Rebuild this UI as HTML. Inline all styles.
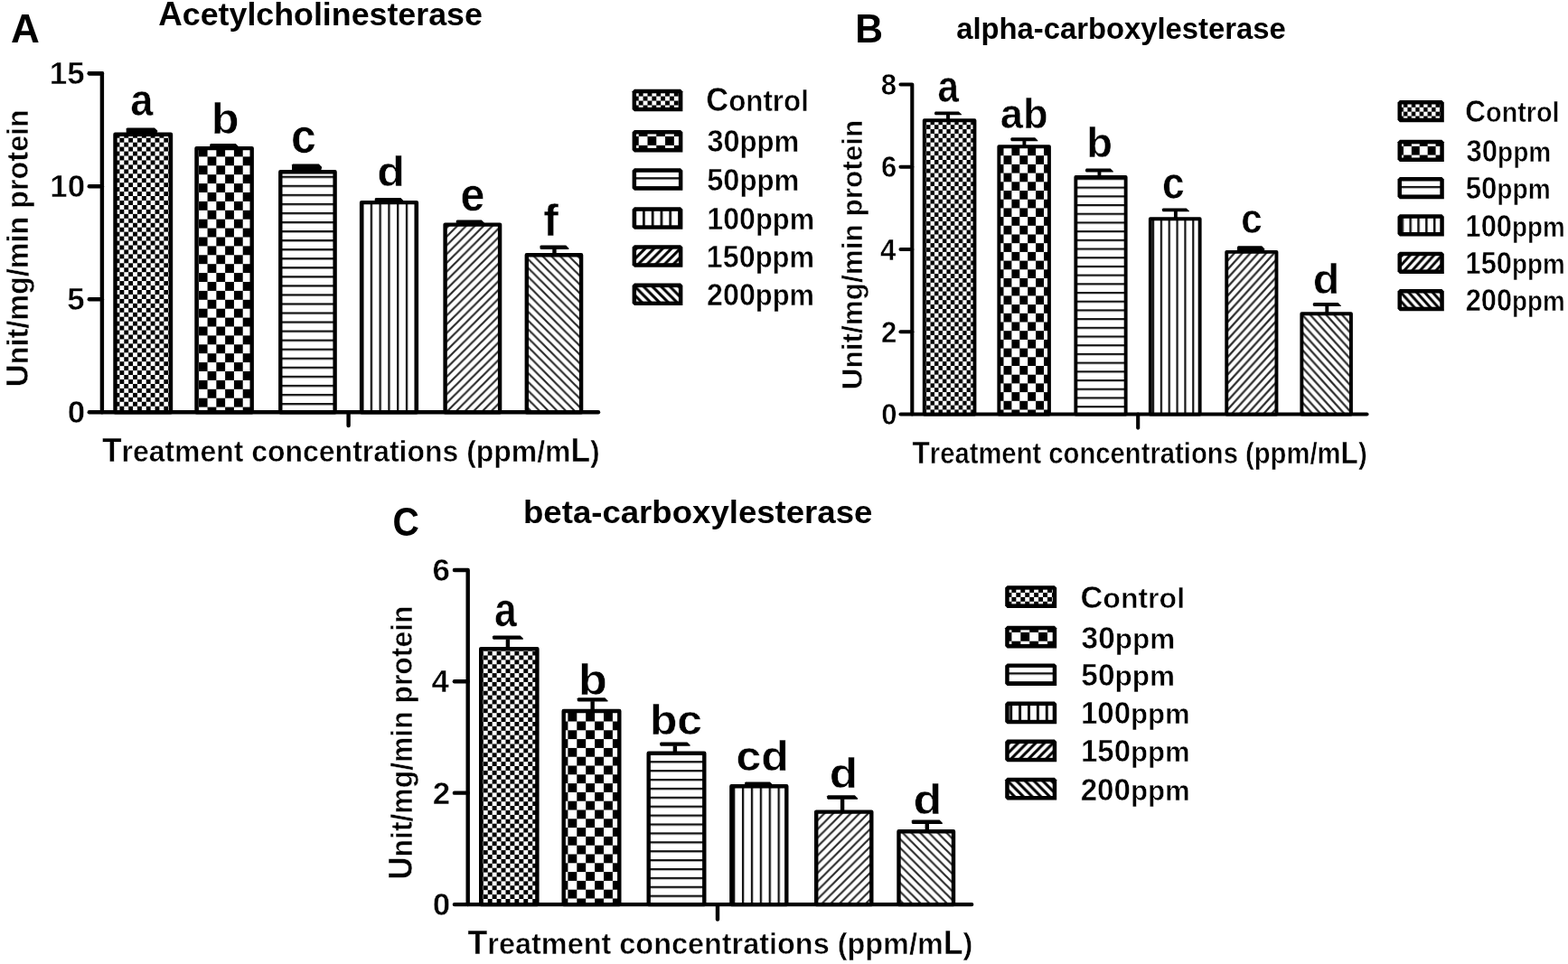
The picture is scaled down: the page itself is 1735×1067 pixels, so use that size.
<!DOCTYPE html>
<html><head><meta charset="utf-8"><style>
html,body{margin:0;padding:0;background:#fff;}
svg{display:block;}
text{font-family:"Liberation Sans",Arial,sans-serif;font-weight:bold;fill:#000;}
text.e{stroke:#fff;stroke-width:0.5px;}
</style></head><body>
<svg width="1735" height="1067" viewBox="0 0 1735 1067">
<defs>
<pattern id="Ac1" patternUnits="userSpaceOnUse" x="5.28" y="4.2" width="9.78" height="9.9"><rect width="9.78" height="9.9" fill="#fff"/><rect width="4.89" height="4.95" fill="#000"/><rect x="4.89" y="4.95" width="4.89" height="4.95" fill="#000"/></pattern>
<pattern id="Ac2" patternUnits="userSpaceOnUse" x="4.64" y="5.1" width="19.56" height="19.8"><rect width="19.56" height="19.8" fill="#fff"/><rect width="9.78" height="9.9" fill="#000"/><rect x="9.78" y="9.9" width="9.78" height="9.9" fill="#000"/></pattern>
<pattern id="Ah" patternUnits="userSpaceOnUse" x="0" y="3.75" width="10" height="10.05"><rect width="10" height="10.05" fill="#fff"/><rect y="0" width="10" height="2.3" fill="#111"/></pattern>
<pattern id="Av" patternUnits="userSpaceOnUse" x="-1.01" y="0" width="9.78" height="10"><rect width="9.78" height="10" fill="#fff"/><rect x="0" width="2.3" height="10" fill="#111"/></pattern>
<pattern id="Ad1" patternUnits="userSpaceOnUse" x="9.2" y="0" width="9.7" height="9.7"><rect width="9.7" height="9.7" fill="#fff"/><path d="M-9.7,19.4 L19.4,-9.7 M-19.4,19.4 L9.7,-9.7 M0,19.4 L29.099999999999998,-9.7" stroke="#2a2a2a" stroke-width="2.2" fill="none"/></pattern>
<pattern id="Ad2" patternUnits="userSpaceOnUse" x="6.5" y="0" width="9.7" height="9.7"><rect width="9.7" height="9.7" fill="#fff"/><path d="M-9.7,-9.7 L19.4,19.4 M-19.4,-9.7 L9.7,19.4 M0,-9.7 L29.099999999999998,19.4" stroke="#2a2a2a" stroke-width="2.2" fill="none"/></pattern>
<pattern id="Bc1" patternUnits="userSpaceOnUse" x="1.6" y="2.4" width="8.9" height="9.7"><rect width="8.9" height="9.7" fill="#fff"/><rect width="4.45" height="4.85" fill="#000"/><rect x="4.45" y="4.85" width="4.45" height="4.85" fill="#000"/></pattern>
<pattern id="Bc2" patternUnits="userSpaceOnUse" x="6.9" y="17.0" width="17.8" height="19.4"><rect width="17.8" height="19.4" fill="#fff"/><rect width="8.9" height="9.7" fill="#000"/><rect x="8.9" y="9.7" width="8.9" height="9.7" fill="#000"/></pattern>
<pattern id="Bh" patternUnits="userSpaceOnUse" x="0" y="2.9" width="10" height="9.7"><rect width="10" height="9.7" fill="#fff"/><rect y="0" width="10" height="2.2" fill="#111"/></pattern>
<pattern id="Bv" patternUnits="userSpaceOnUse" x="0.55" y="0" width="8.85" height="10"><rect width="8.85" height="10" fill="#fff"/><rect x="0" width="2.2" height="10" fill="#111"/></pattern>
<pattern id="Bd1" patternUnits="userSpaceOnUse" x="0.88" y="0" width="8.8" height="9.7"><rect width="8.8" height="9.7" fill="#fff"/><path d="M-8.8,19.4 L17.6,-9.7 M-17.6,19.4 L8.8,-9.7 M0,19.4 L26.400000000000002,-9.7" stroke="#2a2a2a" stroke-width="2.2" fill="none"/></pattern>
<pattern id="Bd2" patternUnits="userSpaceOnUse" x="7.3" y="0" width="8.8" height="9.7"><rect width="8.8" height="9.7" fill="#fff"/><path d="M-8.8,-9.7 L17.6,19.4 M-17.6,-9.7 L8.8,19.4 M0,-9.7 L26.400000000000002,19.4" stroke="#2a2a2a" stroke-width="2.2" fill="none"/></pattern>
<pattern id="Cc1" patternUnits="userSpaceOnUse" x="5.1" y="5.2" width="9.9" height="9.8"><rect width="9.9" height="9.8" fill="#fff"/><rect width="4.95" height="4.9" fill="#000"/><rect x="4.95" y="4.9" width="4.95" height="4.9" fill="#000"/></pattern>
<pattern id="Cc2" patternUnits="userSpaceOnUse" x="14.6" y="4.7" width="19.8" height="19.6"><rect width="19.8" height="19.6" fill="#fff"/><rect width="9.9" height="9.8" fill="#000"/><rect x="9.9" y="9.8" width="9.9" height="9.8" fill="#000"/></pattern>
<pattern id="Ch" patternUnits="userSpaceOnUse" x="0" y="0.65" width="10" height="9.9"><rect width="10" height="9.9" fill="#fff"/><rect y="0" width="10" height="2.3" fill="#111"/></pattern>
<pattern id="Cv" patternUnits="userSpaceOnUse" x="-0.75" y="0" width="9.9" height="10"><rect width="9.9" height="10" fill="#fff"/><rect x="0" width="2.3" height="10" fill="#111"/></pattern>
<pattern id="Cd1" patternUnits="userSpaceOnUse" x="8.4" y="0" width="9.7" height="9.7"><rect width="9.7" height="9.7" fill="#fff"/><path d="M-9.7,19.4 L19.4,-9.7 M-19.4,19.4 L9.7,-9.7 M0,19.4 L29.099999999999998,-9.7" stroke="#2a2a2a" stroke-width="2.2" fill="none"/></pattern>
<pattern id="Cd2" patternUnits="userSpaceOnUse" x="9.1" y="0" width="9.7" height="9.7"><rect width="9.7" height="9.7" fill="#fff"/><path d="M-9.7,-9.7 L19.4,19.4 M-19.4,-9.7 L9.7,19.4 M0,-9.7 L29.099999999999998,19.4" stroke="#2a2a2a" stroke-width="2.2" fill="none"/></pattern>
<pattern id="LA0" patternUnits="userSpaceOnUse" x="701.82" y="106.60" width="9.78" height="9.9"><rect width="9.78" height="9.9" fill="#fff"/><rect width="4.89" height="4.95" fill="#000"/><rect x="4.89" y="4.95" width="4.89" height="4.95" fill="#000"/></pattern>
<pattern id="LA1" patternUnits="userSpaceOnUse" x="716.50" y="151.00" width="19.56" height="19.8"><rect width="19.56" height="19.8" fill="#fff"/><rect width="9.78" height="9.9" fill="#000"/><rect x="9.78" y="9.9" width="9.78" height="9.9" fill="#000"/></pattern>
<pattern id="LA2" patternUnits="userSpaceOnUse" x="0" y="196.20" width="10" height="10.05"><rect width="10" height="10.05" fill="#fff"/><rect width="10" height="2.3" fill="#111"/></pattern>
<pattern id="LA3" patternUnits="userSpaceOnUse" x="701.20" y="0" width="9.78" height="10"><rect width="9.78" height="10" fill="#fff"/><rect width="2.8" height="10" fill="#111"/></pattern>
<pattern id="LA4" patternUnits="userSpaceOnUse" x="708.10" y="271.20" width="9.7" height="9.7"><rect width="9.7" height="9.7" fill="#fff"/><path d="M-9.7,19.4 L19.4,-9.7 M-19.4,19.4 L9.7,-9.7 M0,19.4 L29.099999999999998,-9.7" stroke="#000" stroke-width="3.0" fill="none"/></pattern>
<pattern id="LA5" patternUnits="userSpaceOnUse" x="708.60" y="313.60" width="9.7" height="9.7"><rect width="9.7" height="9.7" fill="#fff"/><path d="M-9.7,-9.7 L19.4,19.4 M-19.4,-9.7 L9.7,19.4 M0,-9.7 L29.099999999999998,19.4" stroke="#000" stroke-width="3.0" fill="none"/></pattern>
<pattern id="LB0" patternUnits="userSpaceOnUse" x="1548.52" y="118.80" width="8.9" height="9.7"><rect width="8.9" height="9.7" fill="#fff"/><rect width="4.45" height="4.85" fill="#000"/><rect x="4.45" y="4.85" width="4.45" height="4.85" fill="#000"/></pattern>
<pattern id="LB1" patternUnits="userSpaceOnUse" x="1561.88" y="161.90" width="17.8" height="19.4"><rect width="17.8" height="19.4" fill="#fff"/><rect width="8.9" height="9.7" fill="#000"/><rect x="8.9" y="9.7" width="8.9" height="9.7" fill="#000"/></pattern>
<pattern id="LB2" patternUnits="userSpaceOnUse" x="0" y="205.90" width="10" height="9.7"><rect width="10" height="9.7" fill="#fff"/><rect width="10" height="2.3" fill="#111"/></pattern>
<pattern id="LB3" patternUnits="userSpaceOnUse" x="1550.60" y="0" width="8.85" height="10"><rect width="8.85" height="10" fill="#fff"/><rect width="2.5" height="10" fill="#111"/></pattern>
<pattern id="LB4" patternUnits="userSpaceOnUse" x="1555.00" y="278.70" width="8.8" height="9.7"><rect width="8.8" height="9.7" fill="#fff"/><path d="M-8.8,19.4 L17.6,-9.7 M-17.6,19.4 L8.8,-9.7 M0,19.4 L26.400000000000002,-9.7" stroke="#000" stroke-width="3.0" fill="none"/></pattern>
<pattern id="LB5" patternUnits="userSpaceOnUse" x="1555.50" y="320.00" width="8.8" height="9.7"><rect width="8.8" height="9.7" fill="#fff"/><path d="M-8.8,-9.7 L17.6,19.4 M-17.6,-9.7 L8.8,19.4 M0,-9.7 L26.400000000000002,19.4" stroke="#000" stroke-width="3.0" fill="none"/></pattern>
<pattern id="LC0" patternUnits="userSpaceOnUse" x="1114.45" y="656.00" width="9.9" height="9.8"><rect width="9.9" height="9.8" fill="#fff"/><rect width="4.95" height="4.9" fill="#000"/><rect x="4.95" y="4.9" width="4.95" height="4.9" fill="#000"/></pattern>
<pattern id="LC1" patternUnits="userSpaceOnUse" x="1129.31" y="699.90" width="19.8" height="19.6"><rect width="19.8" height="19.6" fill="#fff"/><rect width="9.9" height="9.8" fill="#000"/><rect x="9.9" y="9.8" width="9.9" height="9.8" fill="#000"/></pattern>
<pattern id="LC2" patternUnits="userSpaceOnUse" x="0" y="744.30" width="10" height="9.9"><rect width="10" height="9.9" fill="#fff"/><rect width="10" height="2.3" fill="#111"/></pattern>
<pattern id="LC3" patternUnits="userSpaceOnUse" x="1117.20" y="0" width="9.9" height="10"><rect width="9.9" height="10" fill="#fff"/><rect width="3.0" height="10" fill="#111"/></pattern>
<pattern id="LC4" patternUnits="userSpaceOnUse" x="1120.70" y="818.60" width="9.7" height="9.7"><rect width="9.7" height="9.7" fill="#fff"/><path d="M-9.7,19.4 L19.4,-9.7 M-19.4,19.4 L9.7,-9.7 M0,19.4 L29.099999999999998,-9.7" stroke="#000" stroke-width="3.0" fill="none"/></pattern>
<pattern id="LC5" patternUnits="userSpaceOnUse" x="1121.20" y="860.80" width="9.7" height="9.7"><rect width="9.7" height="9.7" fill="#fff"/><path d="M-9.7,-9.7 L19.4,19.4 M-19.4,-9.7 L9.7,19.4 M0,-9.7 L29.099999999999998,19.4" stroke="#000" stroke-width="3.0" fill="none"/></pattern>
</defs>
<rect width="1735" height="1067" fill="#fff"/>
<path d="M98.80,81.30 H112.90 V456.20" fill="none" stroke="#000" stroke-width="4.4" stroke-linejoin="round" stroke-linecap="round"/>
<line x1="98.80" y1="331.20" x2="112.90" y2="331.20" stroke="#000" stroke-width="4.4" stroke-linecap="round"/>
<line x1="98.80" y1="206.20" x2="112.90" y2="206.20" stroke="#000" stroke-width="4.4" stroke-linecap="round"/>
<line x1="98.80" y1="81.20" x2="112.90" y2="81.20" stroke="#000" stroke-width="4.4" stroke-linecap="round"/>
<line x1="98.80" y1="456.20" x2="662.00" y2="456.20" stroke="#000" stroke-width="4.4" stroke-linecap="round"/>
<line x1="385.60" y1="456.20" x2="385.60" y2="471.00" stroke="#000" stroke-width="4.4" stroke-linecap="round"/>
<path d="M140.70,141.40 L171.00,141.40 L174.20,144.60 L174.20,145.80 L173.20,147.50 L140.70,147.50 L139.70,146.50 L139.70,142.40 Z" fill="#000"/>
<rect x="127.50" y="148.70" width="61.50" height="307.50" fill="url(#Ac1)" stroke="#000" stroke-width="4.4" stroke-linejoin="round"/>
<path d="M233.20,159.00 L260.80,159.00 L264.00,162.20 L264.00,163.40 L263.00,162.90 L233.20,162.90 L232.20,161.90 L232.20,160.00 Z" fill="#000"/>
<rect x="217.50" y="164.10" width="61.20" height="292.10" fill="url(#Ac2)" stroke="#000" stroke-width="4.4" stroke-linejoin="round"/>
<path d="M324.00,181.60 L352.80,181.60 L356.00,184.80 L356.00,186.00 L355.00,189.10 L324.00,189.10 L323.00,188.10 L323.00,182.60 Z" fill="#000"/>
<rect x="310.30" y="190.30" width="60.30" height="265.90" fill="url(#Ah)" stroke="#000" stroke-width="4.4" stroke-linejoin="round"/>
<path d="M415.70,219.00 L443.40,219.00 L446.60,222.20 L446.60,223.40 L445.60,222.90 L415.70,222.90 L414.70,221.90 L414.70,220.00 Z" fill="#000"/>
<rect x="400.10" y="224.10" width="60.80" height="232.10" fill="url(#Av)" stroke="#000" stroke-width="4.4" stroke-linejoin="round"/>
<path d="M505.70,243.60 L532.80,243.60 L536.00,246.80 L536.00,248.00 L535.00,247.40 L505.70,247.40 L504.70,246.40 L504.70,244.60 Z" fill="#000"/>
<rect x="492.60" y="248.60" width="60.50" height="207.60" fill="url(#Ad1)" stroke="#000" stroke-width="4.4" stroke-linejoin="round"/>
<line x1="613.45" y1="282.20" x2="613.45" y2="275.50" stroke="#000" stroke-width="4.4"/>
<path d="M598.50,271.60 L626.20,271.60 L629.40,274.80 L629.40,276.00 L628.40,276.00 L598.50,276.00 L597.50,275.00 L597.50,272.60 Z" fill="#000"/>
<rect x="582.80" y="282.20" width="60.30" height="174.00" fill="url(#Ad2)" stroke="#000" stroke-width="4.4" stroke-linejoin="round"/>
<text transform="translate(11.90,47.00) scale(1.0016,1)" font-size="44.04">A</text>
<text transform="translate(175.29,28.40) scale(1.0151,1)"><tspan font-size="36.20">A</tspan><tspan font-size="35.24">cetylcholinesterase</tspan></text>
<text class="e" transform="translate(30.90,428.34) rotate(-90) scale(0.9715,1)"><tspan font-size="35.90">U</tspan><tspan font-size="33.30">nit/mg/min protein</tspan></text>
<text class="e" transform="translate(74.77,468.24) scale(1.0000,1)" font-size="35.00">0</text>
<text class="e" transform="translate(74.32,343.06) scale(1.0000,1)" font-size="35.00">5</text>
<text class="e" transform="translate(55.31,218.24) scale(1.0000,1)" font-size="35.00">10</text>
<text class="e" transform="translate(54.86,93.06) scale(1.0000,1)" font-size="35.00">15</text>
<text class="e" transform="translate(112.91,511.00) scale(0.9657,1)"><tspan font-size="36.60">T</tspan><tspan font-size="33.10">reatment concentrations (ppm/m</tspan><tspan font-size="36.60">L</tspan><tspan font-size="33.10">)</tspan></text>
<text class="e" transform="translate(144.19,128.19) scale(0.8933,1)" font-size="50.73">a</text>
<text class="e" transform="translate(233.77,148.02) scale(1.0553,1)" font-size="47.76">b</text>
<text class="e" transform="translate(322.05,168.87) scale(0.9416,1)" font-size="53.10">c</text>
<text class="e" transform="translate(417.34,205.54) scale(1.0916,1)" font-size="45.99">d</text>
<text class="e" transform="translate(509.41,233.49) scale(0.9482,1)" font-size="51.09">e</text>
<text class="e" transform="translate(601.35,261.30) scale(1.0154,1)" font-size="49.24">f</text>
<path d="M702.00,98.80 H753.00 L755.40,101.20 V123.30 H702.00 L699.60,120.90 V101.20 Z" fill="#000"/>
<rect x="704.10" y="103.30" width="46.80" height="15.50" fill="url(#LA0)"/>
<text class="e" transform="translate(781.18,123.30) scale(0.9467,1)"><tspan font-size="36.50">C</tspan><tspan font-size="33.10">ontrol</tspan></text>
<path d="M702.00,143.90 H753.00 L755.40,146.30 V168.40 H702.00 L699.60,166.00 V146.30 Z" fill="#000"/>
<rect x="704.10" y="148.40" width="46.80" height="15.50" fill="url(#LA1)"/>
<text class="e" transform="translate(782.45,168.40) scale(0.9412,1)"><tspan font-size="34.50">30</tspan><tspan font-size="33.10">ppm</tspan></text>
<path d="M702.00,186.30 H753.00 L755.40,188.70 V210.80 H702.00 L699.60,208.40 V188.70 Z" fill="#000"/>
<rect x="704.10" y="190.80" width="46.80" height="15.50" fill="url(#LA2)"/>
<text class="e" transform="translate(782.16,210.80) scale(0.9439,1)"><tspan font-size="34.50">50</tspan><tspan font-size="33.10">ppm</tspan></text>
<path d="M702.00,229.30 H753.00 L755.40,231.70 V253.80 H702.00 L699.60,251.40 V231.70 Z" fill="#000"/>
<rect x="704.10" y="233.80" width="46.80" height="15.50" fill="url(#LA3)"/>
<text class="e" transform="translate(782.35,253.80) scale(0.9318,1)"><tspan font-size="34.50">100</tspan><tspan font-size="33.10">ppm</tspan></text>
<path d="M702.00,271.20 H753.00 L755.40,273.60 V295.70 H702.00 L699.60,293.30 V273.60 Z" fill="#000"/>
<rect x="704.10" y="275.70" width="46.80" height="15.50" fill="url(#LA4)"/>
<text class="e" transform="translate(781.74,295.70) scale(0.9367,1)"><tspan font-size="34.50">150</tspan><tspan font-size="33.10">ppm</tspan></text>
<path d="M702.00,313.60 H753.00 L755.40,316.00 V338.10 H702.00 L699.60,335.70 V316.00 Z" fill="#000"/>
<rect x="704.10" y="318.10" width="46.80" height="15.50" fill="url(#LA5)"/>
<text class="e" transform="translate(782.08,338.10) scale(0.9340,1)"><tspan font-size="34.50">200</tspan><tspan font-size="33.10">ppm</tspan></text>
<path d="M996.50,93.50 H1009.30 V458.50" fill="none" stroke="#000" stroke-width="4.1" stroke-linejoin="round" stroke-linecap="round"/>
<line x1="996.50" y1="367.24" x2="1009.30" y2="367.24" stroke="#000" stroke-width="4.1" stroke-linecap="round"/>
<line x1="996.50" y1="275.98" x2="1009.30" y2="275.98" stroke="#000" stroke-width="4.1" stroke-linecap="round"/>
<line x1="996.50" y1="184.72" x2="1009.30" y2="184.72" stroke="#000" stroke-width="4.1" stroke-linecap="round"/>
<line x1="996.50" y1="458.50" x2="1512.50" y2="458.50" stroke="#000" stroke-width="4.1" stroke-linecap="round"/>
<line x1="1259.20" y1="458.50" x2="1259.20" y2="473.60" stroke="#000" stroke-width="4.1" stroke-linecap="round"/>
<line x1="1049.00" y1="133.25" x2="1049.00" y2="126.80" stroke="#000" stroke-width="3.9"/>
<path d="M1035.00,123.40 L1060.80,123.40 L1064.00,126.60 L1064.00,127.30 L1063.00,127.30 L1035.00,127.30 L1034.00,126.30 L1034.00,124.40 Z" fill="#000"/>
<rect x="1022.75" y="133.25" width="55.70" height="325.25" fill="url(#Bc1)" stroke="#000" stroke-width="3.9" stroke-linejoin="round"/>
<line x1="1133.40" y1="162.25" x2="1133.40" y2="155.70" stroke="#000" stroke-width="3.9"/>
<path d="M1119.40,152.30 L1145.20,152.30 L1148.40,155.50 L1148.40,156.20 L1147.40,156.20 L1119.40,156.20 L1118.40,155.20 L1118.40,153.30 Z" fill="#000"/>
<rect x="1105.35" y="162.25" width="55.60" height="296.25" fill="url(#Bc2)" stroke="#000" stroke-width="3.9" stroke-linejoin="round"/>
<line x1="1216.45" y1="196.05" x2="1216.45" y2="190.00" stroke="#000" stroke-width="3.9"/>
<path d="M1202.00,186.60 L1228.70,186.60 L1231.90,189.80 L1231.90,190.50 L1230.90,190.50 L1202.00,190.50 L1201.00,189.50 L1201.00,187.60 Z" fill="#000"/>
<rect x="1190.35" y="196.05" width="55.30" height="262.45" fill="url(#Bh)" stroke="#000" stroke-width="3.9" stroke-linejoin="round"/>
<line x1="1300.90" y1="242.25" x2="1300.90" y2="233.80" stroke="#000" stroke-width="3.9"/>
<path d="M1286.90,230.40 L1312.70,230.40 L1315.90,233.60 L1315.90,234.30 L1314.90,234.30 L1286.90,234.30 L1285.90,233.30 L1285.90,231.40 Z" fill="#000"/>
<rect x="1272.85" y="242.25" width="54.80" height="216.25" fill="url(#Bv)" stroke="#000" stroke-width="3.9" stroke-linejoin="round"/>
<path d="M1370.00,272.20 L1396.20,272.20 L1399.40,275.40 L1399.40,276.10 L1398.40,277.90 L1370.00,277.90 L1369.00,276.90 L1369.00,273.20 Z" fill="#000"/>
<rect x="1357.25" y="278.85" width="55.20" height="179.65" fill="url(#Bd1)" stroke="#000" stroke-width="3.9" stroke-linejoin="round"/>
<line x1="1468.30" y1="347.25" x2="1468.30" y2="338.40" stroke="#000" stroke-width="3.9"/>
<path d="M1453.80,335.00 L1480.60,335.00 L1483.80,338.20 L1483.80,338.90 L1482.80,338.90 L1453.80,338.90 L1452.80,337.90 L1452.80,336.00 Z" fill="#000"/>
<rect x="1440.35" y="347.25" width="54.60" height="111.25" fill="url(#Bd2)" stroke="#000" stroke-width="3.9" stroke-linejoin="round"/>
<text transform="translate(946.14,46.70) scale(0.9775,1)" font-size="43.60">B</text>
<text transform="translate(1058.14,42.50) scale(0.9606,1)"><tspan font-size="34.15">alpha-carboxylesterase</tspan></text>
<text class="e" transform="translate(953.50,431.46) rotate(-90) scale(1.0329,1)"><tspan font-size="32.10">U</tspan><tspan font-size="30.50">nit/mg/min protein</tspan></text>
<text class="e" transform="translate(975.16,470.02) scale(0.9300,1)" font-size="33.50">0</text>
<text class="e" transform="translate(975.12,378.93) scale(0.9300,1)" font-size="33.50">2</text>
<text class="e" transform="translate(974.03,287.50) scale(0.9300,1)" font-size="33.50">4</text>
<text class="e" transform="translate(975.00,196.24) scale(0.9300,1)" font-size="33.50">6</text>
<text class="e" transform="translate(974.84,104.98) scale(0.9300,1)" font-size="33.50">8</text>
<text class="e" transform="translate(1009.45,512.60) scale(0.8781,1)"><tspan font-size="36.00">T</tspan><tspan font-size="33.30">reatment concentrations (ppm/m</tspan><tspan font-size="36.00">L</tspan><tspan font-size="33.30">)</tspan></text>
<text class="e" transform="translate(1037.58,112.91) scale(0.8520,1)" font-size="49.45">a</text>
<text class="e" transform="translate(1106.79,142.04) scale(0.9881,1)" font-size="45.85">ab</text>
<text class="e" transform="translate(1202.18,173.55) scale(1.0392,1)" font-size="45.44">b</text>
<text class="e" transform="translate(1286.07,220.10) scale(0.8918,1)" font-size="49.64">c</text>
<text class="e" transform="translate(1373.35,257.64) scale(0.9143,1)" font-size="46.17">c</text>
<text class="e" transform="translate(1452.72,325.13) scale(1.0284,1)" font-size="47.07">d</text>
<path d="M1548.90,111.00 H1595.40 L1597.80,113.40 V135.20 H1548.90 L1546.50,132.80 V113.40 Z" fill="#000"/>
<rect x="1551.00" y="115.50" width="42.30" height="15.20" fill="url(#LB0)"/>
<text class="e" transform="translate(1621.31,135.20) scale(0.9206,1)"><tspan font-size="34.30">C</tspan><tspan font-size="31.25">ontrol</tspan></text>
<path d="M1548.90,154.80 H1595.40 L1597.80,157.20 V179.00 H1548.90 L1546.50,176.60 V157.20 Z" fill="#000"/>
<rect x="1551.00" y="159.30" width="42.30" height="15.20" fill="url(#LB1)"/>
<text class="e" transform="translate(1622.48,179.00) scale(0.8958,1)"><tspan font-size="34.70">30</tspan><tspan font-size="31.25">ppm</tspan></text>
<path d="M1548.90,196.00 H1595.40 L1597.80,198.40 V220.20 H1548.90 L1546.50,217.80 V198.40 Z" fill="#000"/>
<rect x="1551.00" y="200.50" width="42.30" height="15.20" fill="url(#LB2)"/>
<text class="e" transform="translate(1621.71,220.20) scale(0.8984,1)"><tspan font-size="34.70">50</tspan><tspan font-size="31.25">ppm</tspan></text>
<path d="M1548.90,237.30 H1595.40 L1597.80,239.70 V261.50 H1548.90 L1546.50,259.10 V239.70 Z" fill="#000"/>
<rect x="1551.00" y="241.80" width="42.30" height="15.20" fill="url(#LB3)"/>
<text class="e" transform="translate(1621.54,261.50) scale(0.8888,1)"><tspan font-size="34.70">100</tspan><tspan font-size="31.25">ppm</tspan></text>
<path d="M1548.90,278.70 H1595.40 L1597.80,281.10 V302.90 H1548.90 L1546.50,300.50 V281.10 Z" fill="#000"/>
<rect x="1551.00" y="283.20" width="42.30" height="15.20" fill="url(#LB4)"/>
<text class="e" transform="translate(1621.54,302.90) scale(0.8888,1)"><tspan font-size="34.70">150</tspan><tspan font-size="31.25">ppm</tspan></text>
<path d="M1548.90,320.00 H1595.40 L1597.80,322.40 V344.20 H1548.90 L1546.50,341.80 V322.40 Z" fill="#000"/>
<rect x="1551.00" y="324.50" width="42.30" height="15.20" fill="url(#LB5)"/>
<text class="e" transform="translate(1621.63,344.20) scale(0.8881,1)"><tspan font-size="34.70">200</tspan><tspan font-size="31.25">ppm</tspan></text>
<path d="M502.90,631.00 H517.70 V1001.10" fill="none" stroke="#000" stroke-width="4.4" stroke-linejoin="round" stroke-linecap="round"/>
<line x1="502.90" y1="877.66" x2="517.70" y2="877.66" stroke="#000" stroke-width="4.4" stroke-linecap="round"/>
<line x1="502.90" y1="754.22" x2="517.70" y2="754.22" stroke="#000" stroke-width="4.4" stroke-linecap="round"/>
<line x1="502.90" y1="1001.10" x2="1075.20" y2="1001.10" stroke="#000" stroke-width="4.4" stroke-linecap="round"/>
<line x1="794.00" y1="1001.10" x2="794.00" y2="1017.50" stroke="#000" stroke-width="4.4" stroke-linecap="round"/>
<line x1="561.90" y1="718.10" x2="561.90" y2="707.30" stroke="#000" stroke-width="4.4"/>
<path d="M546.00,703.40 L575.60,703.40 L578.80,706.60 L578.80,707.80 L577.80,707.80 L546.00,707.80 L545.00,706.80 L545.00,704.40 Z" fill="#000"/>
<rect x="532.20" y="718.10" width="62.20" height="283.00" fill="url(#Cc1)" stroke="#000" stroke-width="4.4" stroke-linejoin="round"/>
<line x1="655.65" y1="787.00" x2="655.65" y2="776.10" stroke="#000" stroke-width="4.4"/>
<path d="M639.80,772.20 L669.30,772.20 L672.50,775.40 L672.50,776.60 L671.50,776.60 L639.80,776.60 L638.80,775.60 L638.80,773.20 Z" fill="#000"/>
<rect x="623.70" y="787.00" width="61.60" height="214.10" fill="url(#Cc2)" stroke="#000" stroke-width="4.4" stroke-linejoin="round"/>
<line x1="746.90" y1="833.70" x2="746.90" y2="825.30" stroke="#000" stroke-width="4.4"/>
<path d="M731.20,821.40 L760.40,821.40 L763.60,824.60 L763.60,825.80 L762.60,825.80 L731.20,825.80 L730.20,824.80 L730.20,822.40 Z" fill="#000"/>
<rect x="717.70" y="833.70" width="61.60" height="167.40" fill="url(#Ch)" stroke="#000" stroke-width="4.4" stroke-linejoin="round"/>
<path d="M825.00,865.60 L852.00,865.60 L855.20,868.80 L855.20,870.00 L854.20,869.00 L825.00,869.00 L824.00,868.00 L824.00,866.60 Z" fill="#000"/>
<rect x="809.40" y="870.20" width="60.90" height="130.90" fill="url(#Cv)" stroke="#000" stroke-width="4.4" stroke-linejoin="round"/>
<line x1="932.10" y1="898.60" x2="932.10" y2="884.20" stroke="#000" stroke-width="4.4"/>
<path d="M916.20,880.30 L945.80,880.30 L949.00,883.50 L949.00,884.70 L948.00,884.70 L916.20,884.70 L915.20,883.70 L915.20,881.30 Z" fill="#000"/>
<rect x="903.20" y="898.60" width="61.10" height="102.50" fill="url(#Cd1)" stroke="#000" stroke-width="4.4" stroke-linejoin="round"/>
<line x1="1025.80" y1="920.20" x2="1025.80" y2="911.50" stroke="#000" stroke-width="4.4"/>
<path d="M1009.80,907.60 L1039.60,907.60 L1042.80,910.80 L1042.80,912.00 L1041.80,912.00 L1009.80,912.00 L1008.80,911.00 L1008.80,908.60 Z" fill="#000"/>
<rect x="994.50" y="920.20" width="60.50" height="80.90" fill="url(#Cd2)" stroke="#000" stroke-width="4.4" stroke-linejoin="round"/>
<text transform="translate(434.43,593.16) scale(0.9319,1)" font-size="43.64">C</text>
<text transform="translate(579.02,578.80) scale(1.0351,1)"><tspan font-size="35.35">beta-carboxylesterase</tspan></text>
<text class="e" transform="translate(456.00,973.51) rotate(-90) scale(0.9574,1)"><tspan font-size="36.30">U</tspan><tspan font-size="33.30">nit/mg/min protein</tspan></text>
<text class="e" transform="translate(478.78,1013.14) scale(1.0000,1)" font-size="35.00">0</text>
<text class="e" transform="translate(478.74,889.88) scale(1.0000,1)" font-size="35.00">2</text>
<text class="e" transform="translate(477.51,766.26) scale(1.0000,1)" font-size="35.00">4</text>
<text class="e" transform="translate(478.60,642.82) scale(1.0000,1)" font-size="35.00">6</text>
<text class="e" transform="translate(517.50,1055.60) scale(0.9885,1)"><tspan font-size="36.20">T</tspan><tspan font-size="32.80">reatment concentrations (ppm/m</tspan><tspan font-size="36.20">L</tspan><tspan font-size="32.80">)</tspan></text>
<text class="e" transform="translate(547.11,692.89) scale(0.8692,1)" font-size="51.28">a</text>
<text class="e" transform="translate(639.96,768.93) scale(1.1053,1)" font-size="47.21">b</text>
<text class="e" transform="translate(718.91,812.93) scale(1.0582,1)" font-size="47.07">bc</text>
<text class="e" transform="translate(814.46,852.83) scale(1.0612,1)" font-size="46.94">cd</text>
<text class="e" transform="translate(917.79,872.23) scale(1.0948,1)" font-size="46.94">d</text>
<text class="e" transform="translate(1010.46,901.35) scale(1.1483,1)" font-size="45.44">d</text>
<path d="M1114.60,648.20 H1166.80 L1169.20,650.60 V672.90 H1114.60 L1112.20,670.50 V650.60 Z" fill="#000"/>
<rect x="1116.70" y="652.70" width="48.00" height="15.70" fill="url(#LC0)"/>
<text class="e" transform="translate(1195.41,672.90) scale(0.9947,1)"><tspan font-size="34.70">C</tspan><tspan font-size="32.20">ontrol</tspan></text>
<path d="M1114.60,692.80 H1166.80 L1169.20,695.20 V717.50 H1114.60 L1112.20,715.10 V695.20 Z" fill="#000"/>
<rect x="1116.70" y="697.30" width="48.00" height="15.70" fill="url(#LC1)"/>
<text class="e" transform="translate(1196.62,717.50) scale(0.9767,1)"><tspan font-size="34.20">30</tspan><tspan font-size="32.20">ppm</tspan></text>
<path d="M1114.60,734.40 H1166.80 L1169.20,736.80 V759.10 H1114.60 L1112.20,756.70 V736.80 Z" fill="#000"/>
<rect x="1116.70" y="738.90" width="48.00" height="15.70" fill="url(#LC2)"/>
<text class="e" transform="translate(1196.32,759.10) scale(0.9796,1)"><tspan font-size="34.20">50</tspan><tspan font-size="32.20">ppm</tspan></text>
<path d="M1114.60,776.60 H1166.80 L1169.20,779.00 V801.30 H1114.60 L1112.20,798.90 V779.00 Z" fill="#000"/>
<rect x="1116.70" y="781.10" width="48.00" height="15.70" fill="url(#LC3)"/>
<text class="e" transform="translate(1195.97,801.30) scale(0.9661,1)"><tspan font-size="34.20">100</tspan><tspan font-size="32.20">ppm</tspan></text>
<path d="M1114.60,818.60 H1166.80 L1169.20,821.00 V843.30 H1114.60 L1112.20,840.90 V821.00 Z" fill="#000"/>
<rect x="1116.70" y="823.10" width="48.00" height="15.70" fill="url(#LC4)"/>
<text class="e" transform="translate(1195.97,843.30) scale(0.9661,1)"><tspan font-size="34.20">150</tspan><tspan font-size="32.20">ppm</tspan></text>
<path d="M1114.60,860.80 H1166.80 L1169.20,863.20 V885.50 H1114.60 L1112.20,883.10 V863.20 Z" fill="#000"/>
<rect x="1116.70" y="865.30" width="48.00" height="15.70" fill="url(#LC5)"/>
<text class="e" transform="translate(1195.64,885.50) scale(0.9688,1)"><tspan font-size="34.20">200</tspan><tspan font-size="32.20">ppm</tspan></text>
</svg>
</body></html>
